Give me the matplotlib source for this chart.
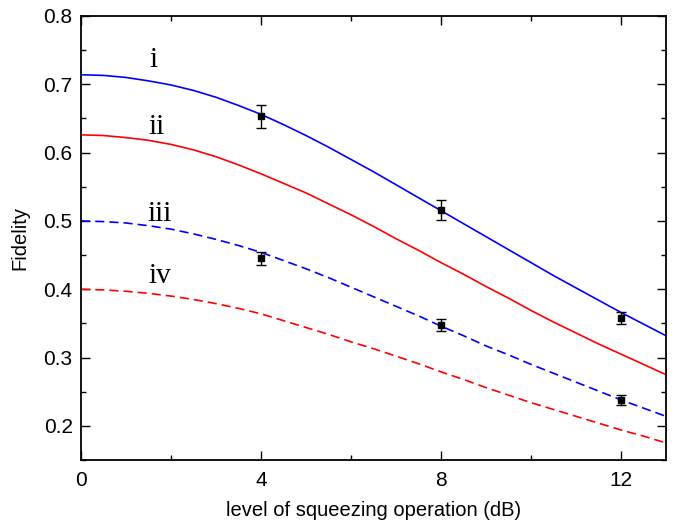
import matplotlib
matplotlib.use("Agg")
import matplotlib.pyplot as plt
from matplotlib.ticker import MultipleLocator

# Theory curves
x_curve = [0, 0.5, 1, 1.5, 2, 2.5, 3, 3.5, 4, 4.5, 5, 5.5, 6, 6.5, 7, 7.5,
           8, 8.5, 9, 9.5, 10, 10.5, 11, 11.5, 12, 12.5, 13]
curve_i = [0.714, 0.713, 0.710, 0.705, 0.699, 0.691, 0.681, 0.669, 0.656, 0.641,
           0.625, 0.608, 0.590, 0.572, 0.553, 0.534, 0.515, 0.496, 0.477, 0.458,
           0.439, 0.420, 0.402, 0.384, 0.366, 0.349, 0.332]
curve_ii = [0.626, 0.625, 0.622, 0.618, 0.612, 0.604, 0.594, 0.582, 0.569, 0.555,
            0.541, 0.525, 0.509, 0.492, 0.474, 0.457, 0.439, 0.422, 0.404, 0.387,
            0.369, 0.352, 0.336, 0.320, 0.305, 0.290, 0.275]
curve_iii = [0.500, 0.499, 0.497, 0.493, 0.488, 0.481, 0.473, 0.464, 0.454, 0.442,
             0.430, 0.417, 0.403, 0.389, 0.375, 0.361, 0.346, 0.332, 0.317, 0.304,
             0.290, 0.277, 0.264, 0.251, 0.238, 0.226, 0.214]
curve_iv = [0.400, 0.399, 0.397, 0.394, 0.390, 0.385, 0.379, 0.372, 0.364, 0.354,
            0.344, 0.334, 0.323, 0.313, 0.302, 0.291, 0.279, 0.268, 0.256, 0.245,
            0.234, 0.224, 0.214, 0.204, 0.194, 0.185, 0.175]

# Experimental points
x_data = [4, 8, 12]
data_upper = [0.653, 0.516, 0.358]
err_upper = [0.017, 0.015, 0.009]
data_lower = [0.445, 0.348, 0.238]
err_lower = [0.010, 0.009, 0.007]

labels = ["i", "ii", "iii", "iv"]
label_x = [1.62, 1.68, 1.75, 1.75]
label_y = [0.735, 0.637, 0.510, 0.420]

fig = plt.figure(figsize=(6.82, 5.24), dpi=100)
ax = fig.add_axes([0.1188, 0.1221, 0.8577, 0.8474])

lw = 1.2
ax.plot(x_curve, curve_i, color="#0000ff", lw=lw)
ax.plot(x_curve, curve_ii, color="#ff0000", lw=lw)
ax.plot(x_curve, curve_iii, color="#0000ff", lw=lw, dashes=(5.5, 3))
ax.plot(x_curve, curve_iv, color="#ff0000", lw=lw, dashes=(5.5, 3))

for yd, ed in ((data_upper, err_upper), (data_lower, err_lower)):
    ax.errorbar(x_data, yd, yerr=ed, fmt="s", color="black", ms=4.5,
                ecolor="black", elinewidth=1.0, capsize=3.5, capthick=1.0, zorder=5)

for t, tx, ty in zip(labels, label_x, label_y):
    ax.text(tx, ty, t, family="Liberation Serif", fontsize=21, ha="center", va="center")

ax.set_xlim(0, 13)
ax.set_ylim(0.15, 0.8)
ax.xaxis.set_major_locator(MultipleLocator(4))
ax.xaxis.set_minor_locator(MultipleLocator(2))
ax.yaxis.set_minor_locator(MultipleLocator(0.05))
ax.set_yticks([0.2, 0.3, 0.4, 0.5, 0.6, 0.7, 0.8])
ax.set_yticklabels(["0.2", "0.3", "0.4", "0.5", "0.6", "0.7", "0.8"])

ax.tick_params(which="both", direction="in", top=True, right=True, width=1.0,
               labelsize=15)
ax.tick_params(axis="x", pad=8)
ax.tick_params(axis="y", pad=6)
ax.tick_params(which="major", length=6.5)
ax.tick_params(which="minor", length=3.6)
for lab in ax.get_xticklabels() + ax.get_yticklabels():
    lab.set_family("Liberation Sans")
for s in ax.spines.values():
    s.set_linewidth(1.3)

ax.set_xlabel("level of squeezing operation (dB)", family="Liberation Sans", fontsize=14.5, labelpad=8)
ax.set_ylabel("Fidelity", family="Liberation Sans", fontsize=14.5, labelpad=10)

fig.savefig("out.png", dpi=100)
